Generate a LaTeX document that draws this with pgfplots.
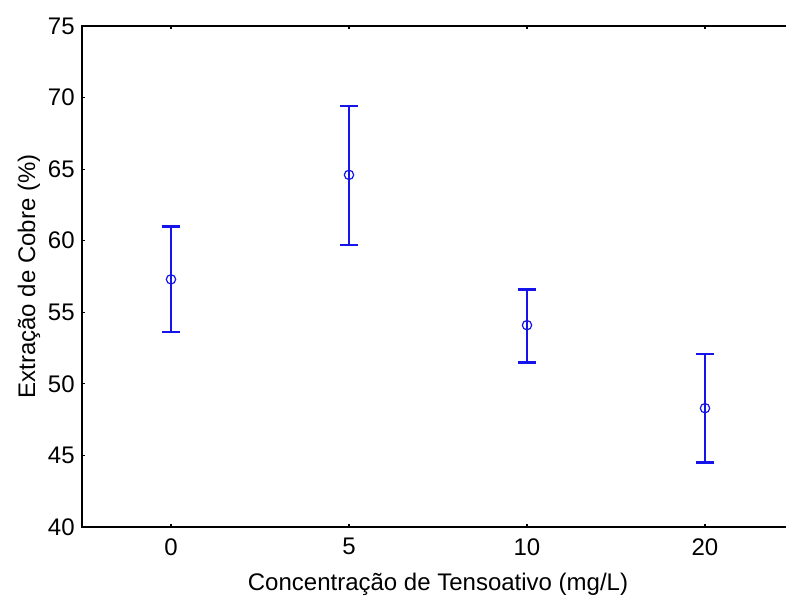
\documentclass[border=0pt]{standalone}
\usepackage{fontspec}
\setmainfont{Liberation Sans}
\usepackage{pgfplots}
\pgfplotsset{compat=1.18}
\usetikzlibrary{calc}
\definecolor{errblue}{RGB}{20,20,235}

\begin{document}
\begin{tikzpicture}
\begin{axis}[
  scale only axis,
  width=534pt, height=375.75pt,
  xmin=-0.5, xmax=3.5,
  ymin=40, ymax=75,
  xtick={0,1,2,3}, xticklabels={0,5,10,20},
  ytick={40,45,...,75},
  tick align=inside, major tick length=2.5pt,
  tick style={black, line width=0.8pt},
  xtick pos=both, ytick pos=left,
  axis line style={line width=1.1pt},
  ticklabel style={font=\fontsize{18}{20}\selectfont},
  /pgf/number format/assume math mode=true,
  xticklabel style={yshift=-5pt},
  yticklabel style={xshift=-2pt},
  xlabel={Concentração de Tensoativo (mg/L)},
  ylabel={Extração de Cobre (\%)},
  label style={font=\fontsize{18}{20}\selectfont},
  xlabel style={yshift=-6.5pt},
  ylabel style={yshift=-1pt},
  clip=false,
]
\addplot[only marks, color=errblue, mark=o, mark size=3.5pt,
  mark options={fill=white, line width=0.9pt},
  error bars/.cd, y dir=both, y explicit,
  error bar style={line width=1.7pt, color=errblue},
  error mark options={rotate=90, mark size=7pt, line width=1.7pt, color=errblue}]
coordinates {
  (0,57.3) += (0,3.7) -= (0,3.7)
  (1,64.6) += (0,4.8) -= (0,4.9)
  (2,54.1) += (0,2.5) -= (0,2.6)
  (3,48.3) += (0,3.8) -= (0,3.8)
};
\end{axis}
\pgfresetboundingbox
\useasboundingbox ($(current axis.south west)+(-61.5pt,-54pt)$) rectangle ++(589.5pt,449.25pt);
\end{tikzpicture}
\end{document}
